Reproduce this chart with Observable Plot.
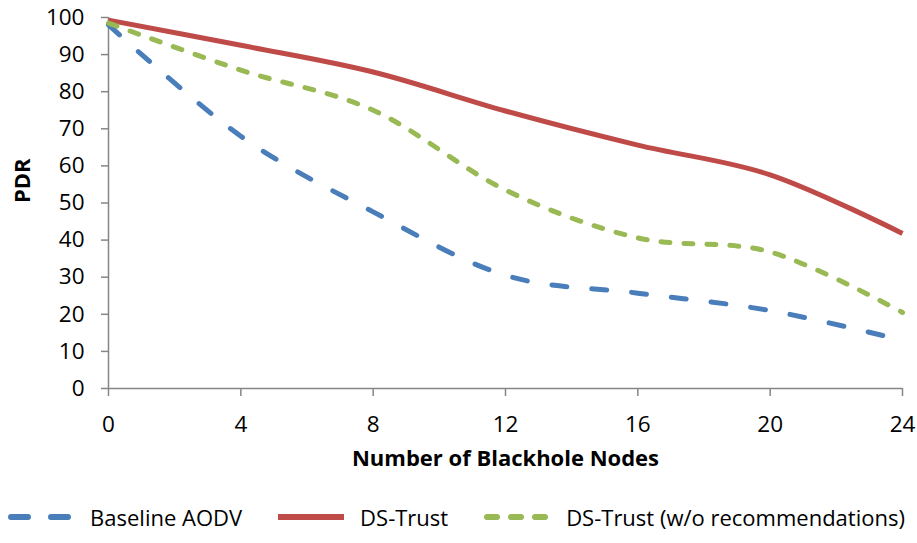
<!DOCTYPE html>
<html>
<head>
<meta charset="utf-8">
<script src="https://cdn.jsdelivr.net/npm/d3@7"></script>
<script src="https://cdn.jsdelivr.net/npm/@observablehq/plot@0.6"></script>
<style>
  html, body { margin: 0; padding: 0; background: #fff; }
  #chart { width: 917px; font-family: 'Open Sans', sans-serif; }
  .legend { display: flex; justify-content: center; align-items: center; height: 53px; font-size: 22px; color: #000; margin-left: -4px; white-space: nowrap; }
  .legend .item { display: flex; align-items: center; margin: 0 18px; flex-shrink: 0; white-space: nowrap; }
  .legend svg { margin-right: 16px; flex-shrink: 0; }
</style>
</head>
<body>
<div id="chart"></div>
<script>
const nodes = [0, 4, 8, 12, 16, 20, 24];
const baselineAODV = [98, 68, 47.6, 30.5, 25.7, 21, 13];
const dsTrust = [99.3, 92.5, 85.3, 74.8, 65.6, 57.6, 41.8];
const dsTrustNoRec = [98.5, 85.8, 75, 53.5, 40.6, 36.8, 20.5];
const seriesNames = ["Baseline AODV", "DS-Trust", "DS-Trust (w/o recommendations)"];
const xTicks = [0, 4, 8, 12, 16, 20, 24];
const yTicks = [0, 10, 20, 30, 40, 50, 60, 70, 80, 90, 100];
const xTitle = "Number of Blackhole Nodes";
const yTitle = "PDR";

const colors = ["#4A7EBB", "#BE4B48", "#98B954"];
const dashes = ["15,25", null, "9,14"];
const valueSets = [baselineAODV, dsTrust, dsTrustNoRec];

const rows = [];
valueSets.forEach((vals, s) => nodes.forEach((n, i) => rows.push({series: seriesNames[s], x: n, y: vals[i]})));

const lineMarks = seriesNames.map((name, s) =>
  Plot.line(rows.filter(r => r.series === name), {
    x: "x", y: "y",
    stroke: colors[s], strokeWidth: 5,
    strokeDasharray: dashes[s] || undefined,
    strokeLinecap: dashes[s] ? "round" : "butt",
    curve: "cardinal", tension: 0
  })
);

const plot = Plot.plot({
  width: 917,
  height: 490,
  marginLeft: 108,
  marginRight: 15,
  marginTop: 17,
  marginBottom: 102,
  style: {fontFamily: "'Open Sans', sans-serif", fontSize: "22.5px", color: "#000", background: "#fff"},
  x: {domain: [0, 24]},
  y: {domain: [0, 100]},
  marks: [
    Plot.axisX({ticks: xTicks, tickSize: 8, tickPadding: 20, stroke: "#868686", strokeWidth: 1.5, fill: "#000", label: null}),
    Plot.axisY({ticks: yTicks, tickSize: 7, tickPadding: 17, stroke: "#868686", strokeWidth: 1.5, fill: "#000", label: null}),
    Plot.ruleX([0], {stroke: "#868686", strokeWidth: 1.5}),
    Plot.ruleY([0], {stroke: "#868686", strokeWidth: 1.5}),
    ...lineMarks,
    Plot.text([xTitle], {text: d => d, frameAnchor: "bottom", dy: 77, fontWeight: "bold", fill: "#000", fontSize: 22}),
    Plot.text([yTitle], {text: d => d, frameAnchor: "left", dx: -86, rotate: -90, fontWeight: "bold", fill: "#000", fontSize: 22})
  ]
});

const chart = document.getElementById("chart");
chart.appendChild(plot);

const legend = document.createElement("div");
legend.className = "legend";
seriesNames.forEach((name, s) => {
  const item = document.createElement("div");
  item.className = "item";
  const ns = "http://www.w3.org/2000/svg";
  const sw = document.createElementNS(ns, "svg");
  sw.setAttribute("width", 66);
  sw.setAttribute("height", 12);
  const ln = document.createElementNS(ns, "line");
  ln.setAttribute("x1", 3);
  ln.setAttribute("x2", 63);
  ln.setAttribute("y1", 6);
  ln.setAttribute("y2", 6);
  ln.setAttribute("stroke", colors[s]);
  ln.setAttribute("stroke-width", 6);
  ln.setAttribute("stroke-linecap", dashes[s] ? "round" : "butt");
  if (s === 0) ln.setAttribute("stroke-dasharray", "17,23");
  if (s === 2) ln.setAttribute("stroke-dasharray", "10,14");
  if (s === 1) { ln.setAttribute("x1", 0); ln.setAttribute("x2", 66); }
  sw.appendChild(ln);
  const label = document.createElement("span");
  label.textContent = name;
  item.appendChild(sw);
  item.appendChild(label);
  legend.appendChild(item);
});
chart.appendChild(legend);
</script>
</body>
</html>
